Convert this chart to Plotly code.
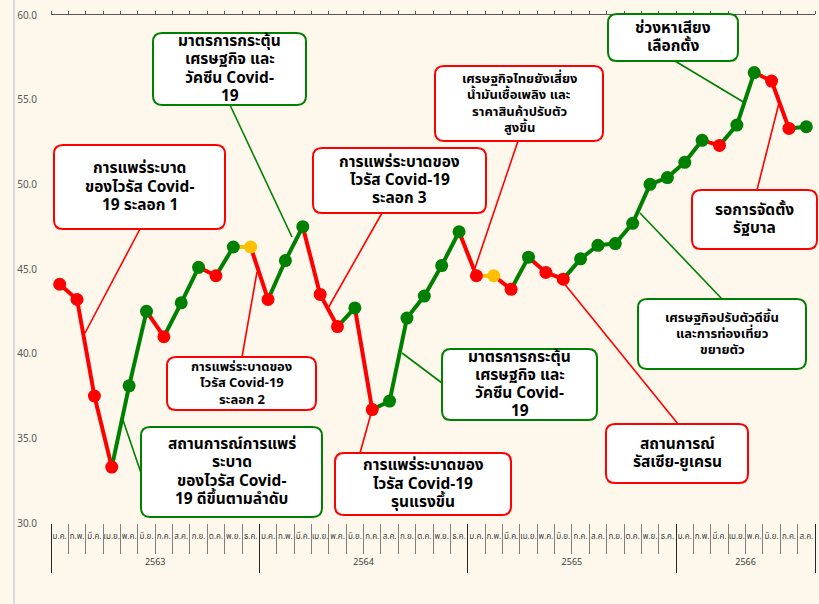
import plotly.graph_objects as go

# ---------------- data ----------------
months = ["ม.ค.", "ก.พ.", "มี.ค.", "เม.ย.", "พ.ค.", "มิ.ย.",
          "ก.ค.", "ส.ค.", "ก.ย.", "ต.ค.", "พ.ย.", "ธ.ค."]
years = ["2563", "2564", "2565", "2566"]
months_per_year = [12, 12, 12, 8]
month_labels = [m for y, n in zip(years, months_per_year) for m in months[:n]]

values = [44.1, 43.2, 37.5, 33.3, 38.1, 42.5, 41.0, 43.0, 45.1, 44.6, 46.3, 46.3,
          43.2, 45.5, 47.5, 43.5, 41.6, 42.7, 36.7, 37.2, 42.1, 43.4, 45.2, 47.2,
          44.6, 44.6, 43.8, 45.7, 44.8, 44.4, 45.6, 46.4, 46.5, 47.7, 50.0, 50.4,
          51.3, 52.6, 52.3, 53.5, 56.6, 56.1, 53.3, 53.4]
first_month_trend = "down"   # change of ม.ค. 2563 vs previous month

y_ticks = [30, 35, 40, 45, 50, 55, 60]

# ---------------- styles ----------------
RED, GREEN, YELLOW = "#FF0000", "#008000", "#FFC000"
BG = "#FDF8EB"
FONT = "Noto Sans Thai, Noto Sans, DejaVu Sans, sans-serif"

W, H = 819, 604
ML, MR, MT, MB = 51, 4, 15, 14
PLOT_BOTTOM_PX = 523
paper_bottom_px = H - MB
paper_h = paper_bottom_px - MT
paper_w = W - ML - MR
y_domain_low = (paper_bottom_px - PLOT_BOTTOM_PX) / paper_h

x = list(range(len(values)))

def trend_color(i):
    if i == 0:
        return RED if first_month_trend == "down" else GREEN
    d = values[i] - values[i - 1]
    if abs(d) < 1e-9:
        return YELLOW
    return GREEN if d > 0 else RED

colors = [trend_color(i) for i in range(len(values))]

fig = go.Figure()

# coloured line segments (segment i-1 -> i takes colour of point i)
for col in (RED, GREEN, YELLOW):
    xs, ys = [], []
    for i in range(1, len(values)):
        if colors[i] == col:
            xs += [x[i - 1], x[i], None]
            ys += [values[i - 1], values[i], None]
    fig.add_trace(go.Scatter(x=xs, y=ys, mode="lines",
                             line=dict(color=col, width=4),
                             hoverinfo="skip", showlegend=False))

fig.add_trace(go.Scatter(x=x, y=values, mode="markers",
                         marker=dict(color=colors, size=13, line=dict(width=0)),
                         showlegend=False))

# dummy traces so overlay axes are drawn
for ax in ("x2", "x3", "x4", "x5"):
    fig.add_trace(go.Scatter(x=[None], y=[None], xaxis=ax, yaxis="y",
                             showlegend=False, hoverinfo="skip"))

n = len(values)
xr = [-0.5, n - 0.5]
boundaries = [i - 0.5 for i in range(n + 1)]
year_bounds, year_centers = [-0.5], []
acc = 0
for k in months_per_year:
    year_centers.append(acc + (k - 1) / 2)
    acc += k
    year_bounds.append(acc - 0.5)

common = dict(range=xr, showgrid=False, zeroline=False, fixedrange=True, automargin=False)

fig.update_layout(
    width=W, height=H,
    margin=dict(l=ML, r=MR, t=MT, b=MB, autoexpand=False),
    paper_bgcolor=BG, plot_bgcolor=BG,
    font=dict(family=FONT),
    showlegend=False,
    xaxis=dict(**common, anchor="y", tickmode="array", tickvals=x, ticktext=month_labels,
               tickangle=0, ticks="outside", ticklen=5, tickcolor="rgba(0,0,0,0)",
               tickfont=dict(size=8, color="#404040"), showline=False),
    xaxis2=dict(**common, anchor="y", overlaying="x", tickmode="array", tickvals=boundaries,
                ticks="outside", ticklen=30, tickcolor="#7F7F7F", tickwidth=1,
                showticklabels=False, showline=False),
    xaxis3=dict(**common, anchor="y", overlaying="x", tickmode="array", tickvals=year_bounds,
                ticks="outside", ticklen=49, tickcolor="#262626", tickwidth=1,
                showticklabels=False, showline=False),
    xaxis4=dict(**common, anchor="y", overlaying="x", tickmode="array", tickvals=year_centers,
                ticktext=years, tickangle=0, ticks="outside", ticklen=30,
                tickcolor="rgba(0,0,0,0)", tickfont=dict(size=9, color="#404040"),
                showline=False),
    xaxis5=dict(**common, anchor="y", overlaying="x", side="top", tickmode="array",
                tickvals=boundaries, ticks="outside", ticklen=3, tickcolor="#595959",
                showticklabels=False, showline=True, linecolor="#595959", linewidth=1),
    yaxis=dict(range=[30, 60], domain=[y_domain_low, 1], tickmode="array", tickvals=y_ticks,
               tickformat=".1f", ticks="outside", ticklen=11, tickcolor="rgba(0,0,0,0)",
               tickfont=dict(size=10, color="#595959"), showgrid=False, zeroline=False,
               showline=False, fixedrange=True, automargin=False),
)

# ---------------- callout boxes (pixel layout -> paper) ----------------
def P(xp, yp):
    return (xp - ML) / paper_w, (paper_bottom_px - yp) / paper_h

def rounded_path(x0, y0, x1, y1, r=9):
    pts = [("M", [(x0 + r, y0)]), ("L", [(x1 - r, y0)]), ("Q", [(x1, y0), (x1, y0 + r)]),
           ("L", [(x1, y1 - r)]), ("Q", [(x1, y1), (x1 - r, y1)]), ("L", [(x0 + r, y1)]),
           ("Q", [(x0, y1), (x0, y1 - r)]), ("L", [(x0, y0 + r)]), ("Q", [(x0, y0), (x0 + r, y0)])]
    s = ""
    for cmd, plist in pts:
        s += cmd + " " + " ".join("%.5f,%.5f" % P(px, py) for px, py in plist) + " "
    return s + "Z"

BIG, SMALL = (15.5, 18.3), (13, 16.2)   # font size, line spacing px
boxes = [
    # lines, colour, box (x0,y0,x1,y1) px, text style, callout from, callout to
    (["การแพร่ระบาด", "ของไวรัส Covid-", "19 ระลอก 1"], RED, (54, 145, 225, 229), BIG, (140, 229), (85, 333)),
    (["มาตรการกระตุ้น", "เศรษฐกิจ และ", "วัคซีน Covid-", "19"], GREEN, (153, 33, 306, 105), BIG, (230, 105), (292, 237)),
    (["การแพร่ระบาดของ", "ไวรัส Covid-19", "ระลอก 3"], RED, (313, 148, 486, 213), BIG, (382, 213), (327, 310)),
    (["เศรษฐกิจไทยยังเสี่ยง", "น้ำมันเชื้อเพลิง และ", "ราคาสินค้าปรับตัว", "สูงขึ้น"], RED, (435, 66, 603, 141), SMALL, (518, 141), (475, 268)),
    (["ช่วงหาเสียง", "เลือกตั้ง"], GREEN, (608, 14, 738, 61), BIG, (675, 61), (745, 103)),
    (["รอการจัดตั้ง", "รัฐบาล"], RED, (692, 190, 817, 249), BIG, (757, 190), (779, 103)),
    (["เศรษฐกิจปรับตัวดีขึ้น", "และการท่องเที่ยว", "ขยายตัว"], GREEN, (638, 299, 806, 369), SMALL, (722, 299), (640, 213)),
    (["การแพร่ระบาดของ", "ไวรัส Covid-19", "ระลอก 2"], RED, (167, 357, 316, 410), SMALL, (242, 357), (257, 272)),
    (["สถานการณ์การแพร่", "ระบาด", "ของไวรัส Covid-", "19 ดีขึ้นตามลำดับ"], GREEN, (141, 427, 322, 517), BIG, (141, 473), (123, 420)),
    (["การแพร่ระบาดของ", "ไวรัส Covid-19", "รุนแรงขึ้น"], RED, (335, 453, 511, 515), BIG, (360, 453), (372, 410)),
    (["มาตรการกระตุ้น", "เศรษฐกิจ และ", "วัคซีน Covid-", "19"], GREEN, (442, 349, 597, 420), BIG, (442, 383), (402, 353)),
    (["สถานการณ์", "รัสเซีย-ยูเครน"], RED, (606, 424, 748, 483), BIG, (678, 424), (563, 282)),
]

shapes = []
annotations = []
# light frame line at left of chart
fx, _ = P(14, 0)
shapes.append(dict(type="line", xref="paper", yref="paper", x0=fx, x1=fx, y0=-0.1, y1=1.1,
                   line=dict(color="#D9D9D9", width=2), layer="below"))
for lines, col, (x0, y0, x1, y1), (fs, lh), a, b in boxes:
    ax0, ay0 = P(*a)
    bx0, by0 = P(*b)
    shapes.append(dict(type="line", xref="paper", yref="paper", x0=ax0, y0=ay0, x1=bx0, y1=by0,
                       line=dict(color=col, width=1.6), layer="below"))
    shapes.append(dict(type="path", xref="paper", yref="paper", path=rounded_path(x0, y0, x1, y1),
                       fillcolor="white", line=dict(color=col, width=2), layer="above"))
    cxp = (x0 + x1) / 2
    cyp = (y0 + y1) / 2
    nl = len(lines)
    for k, t in enumerate(lines):
        cx, cy = P(cxp, cyp + (k - (nl - 1) / 2) * lh)
        annotations.append(dict(xref="paper", yref="paper", x=cx, y=cy, text="<b>" + t + "</b>",
                                showarrow=False, xanchor="center", yanchor="middle",
                                font=dict(size=fs, color="black", family=FONT)))

fig.update_layout(shapes=shapes, annotations=annotations)

fig.write_html("out.html",
               config={"displayModeBar": False},
               post_script="document.body.style.margin='0px';document.body.style.overflow='hidden';"
                           "document.body.style.background='" + BG + "';")
